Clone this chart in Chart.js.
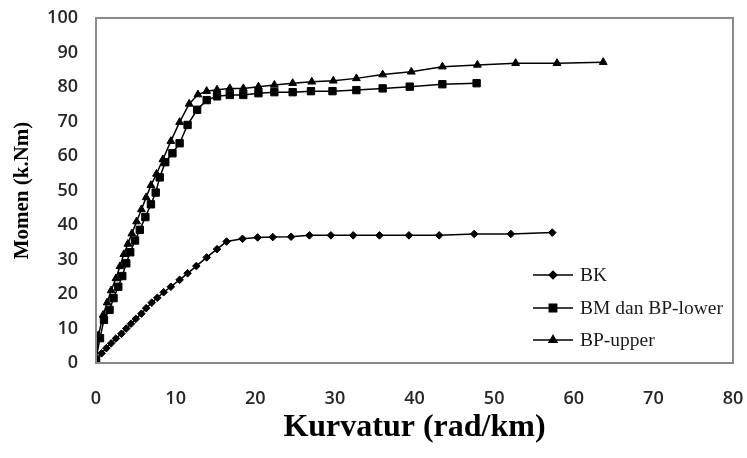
<!DOCTYPE html>
<html>
<head>
<meta charset="utf-8">
<script src="https://cdn.jsdelivr.net/npm/chart.js@4.4.1/dist/chart.umd.min.js"></script>
<style>
  body { margin: 0; background: #fff; }
  #wrap { width: 747px; height: 458px; }
</style>
</head>
<body>
<div id="wrap"><canvas id="momen" width="747" height="458"></canvas></div>
<script>
// Kurvatur (rad/km) vs Momen (k.Nm)
const bkX = [0, 0.7, 1.3, 1.9, 2.5, 3.2, 3.8, 4.4, 5.0, 5.7, 6.3, 7.0, 7.7, 8.5, 9.4, 10.5, 11.5, 12.6, 13.9, 15.2, 16.4, 18.4, 20.3, 22.2, 24.5, 26.8, 29.5, 32.3, 35.6, 39.3, 43.1, 47.5, 52.1, 57.3];
const bkY = [1, 2.8, 4.3, 5.7, 7.1, 8.5, 10.0, 11.4, 12.8, 14.3, 15.9, 17.5, 18.9, 20.5, 22.1, 24.1, 26.0, 28.1, 30.6, 33.0, 35.2, 36.0, 36.4, 36.5, 36.6, 37.0, 37.0, 37.0, 37.0, 37.0, 37.0, 37.4, 37.4, 37.8];

const bmX = [0, 0.5, 1.0, 1.7, 2.2, 2.8, 3.3, 3.8, 4.3, 4.9, 5.5, 6.2, 6.9, 7.5, 8.0, 8.7, 9.6, 10.5, 11.5, 12.7, 13.9, 15.2, 16.8, 18.5, 20.4, 22.4, 24.7, 27.0, 29.7, 32.7, 36.0, 39.4, 43.5, 47.8];
const bmY = [1, 7.2, 12.5, 15.4, 18.8, 22.1, 25.2, 28.9, 32.1, 35.5, 38.6, 42.3, 46.0, 49.4, 53.8, 58.2, 60.8, 63.7, 69.0, 73.4, 76.2, 77.3, 77.7, 77.7, 78.2, 78.5, 78.5, 78.8, 78.8, 79.1, 79.6, 80.1, 80.8, 81.1];

const bpX = [0, 0.3, 0.9, 1.4, 1.9, 2.5, 3.0, 3.5, 4.0, 4.5, 5.1, 5.7, 6.3, 6.9, 7.6, 8.4, 9.4, 10.5, 11.7, 12.8, 13.9, 15.2, 16.8, 18.5, 20.4, 22.4, 24.7, 27.1, 29.8, 32.7, 36.0, 39.6, 43.5, 47.9, 52.7, 57.9, 63.7];
const bpY = [1, 8.0, 13.9, 17.5, 21.0, 24.5, 28.0, 31.5, 34.5, 37.5, 41.0, 44.5, 48.0, 51.5, 54.8, 59.0, 64.3, 69.8, 75.1, 77.8, 78.8, 79.2, 79.6, 79.6, 80.1, 80.6, 81.1, 81.5, 81.8, 82.5, 83.6, 84.4, 85.9, 86.4, 86.9, 86.9, 87.2];

const seriesNames = ['BK', 'BM dan BP-lower', 'BP-upper'];
const markers = ['rectRot', 'rect', 'triangle'];
const markerSizes = [3.8, 5.2, 4.5];

const toPoints = (xs, ys) => xs.map((x, i) => ({ x: x, y: ys[i] }));

// box round the plot area
const frame = {
    id: 'frame',
    afterDraw(chart) {
        const { ctx, chartArea: a } = chart;
        ctx.save();
        ctx.strokeStyle = '#8a8a8a';
        ctx.lineWidth = 2;
        ctx.strokeRect(a.left, a.top, a.right - a.left, a.bottom - a.top);
        ctx.restore();
    }
};

// legend drawn as line + marker, like the spreadsheet one
const lineLegend = {
    id: 'lineLegend',
    afterDraw(chart) {
        const ctx = chart.ctx;
        const rows = [275, 308, 340];
        ctx.save();
        chart.data.datasets.forEach((ds, i) => {
            const y = rows[i];
            ctx.strokeStyle = '#000';
            ctx.lineWidth = 1.5;
            ctx.beginPath();
            ctx.moveTo(533, y);
            ctx.lineTo(573, y);
            ctx.stroke();
            ctx.fillStyle = '#000';
            Chart.helpers.drawPoint(ctx, {
                pointStyle: ds.pointStyle,
                radius: ds.pointRadius,
                borderWidth: 1
            }, 553, y);
            ctx.fillStyle = '#1a1a1a';
            ctx.font = '19.5px "Liberation Serif", "Times New Roman", serif';
            ctx.textBaseline = 'middle';
            ctx.textAlign = 'left';
            ctx.fillText(ds.label, 580, y + 1);
        });
        ctx.restore();
    }
};

const sets = [toPoints(bkX, bkY), toPoints(bmX, bmY), toPoints(bpX, bpY)];

new Chart(document.getElementById('momen'), {
    type: 'scatter',
    data: {
        datasets: sets.map((pts, i) => ({
            label: seriesNames[i],
            data: pts,
            showLine: true,
            borderColor: '#000',
            backgroundColor: '#000',
            borderWidth: 1.5,
            pointStyle: markers[i],
            pointRadius: markerSizes[i],
            pointBorderWidth: 1,
            pointBorderColor: '#000',
            pointBackgroundColor: '#000'
        }))
    },
    options: {
        responsive: false,
        animation: false,
        layout: { padding: { left: 0, right: 14, top: 18, bottom: 0 } },
        plugins: {
            legend: { display: false },
            tooltip: { enabled: false }
        },
        scales: {
            x: {
                type: 'linear',
                min: 0,
                max: 80,
                grid: { display: false, drawTicks: false },
                border: { display: false },
                ticks: {
                    stepSize: 10,
                    padding: 25,
                    color: '#262626',
                    font: { family: '"Open Sans", sans-serif', size: 18, weight: '600' }
                },
                title: {
                    display: true,
                    text: 'Kurvatur (rad/km)',
                    color: '#000',
                    padding: { top: 11, bottom: 11 },
                    font: { family: '"Liberation Serif", "Times New Roman", serif', size: 32, weight: 'bold' }
                },
                afterFit(scale) {
                    scale.height = 95;
                    scale.paddingLeft = 0;
                    scale.paddingRight = 0;
                }
            },
            y: {
                type: 'linear',
                min: 0,
                max: 100,
                grid: { display: false, drawTicks: false },
                border: { display: false },
                ticks: {
                    stepSize: 10,
                    padding: 18,
                    color: '#262626',
                    font: { family: '"Open Sans", sans-serif', size: 18, weight: '600' }
                },
                title: {
                    display: true,
                    text: 'Momen (k.Nm)',
                    color: '#000',
                    padding: { top: 9.5, bottom: 9.5 },
                    font: { family: '"Liberation Serif", "Times New Roman", serif', size: 21, weight: 'bold' }
                },
                afterFit(scale) {
                    scale.width = 96;
                    scale.paddingTop = 0;
                    scale.paddingBottom = 0;
                }
            }
        }
    },
    plugins: [frame, lineLegend]
});
</script>
</body>
</html>
